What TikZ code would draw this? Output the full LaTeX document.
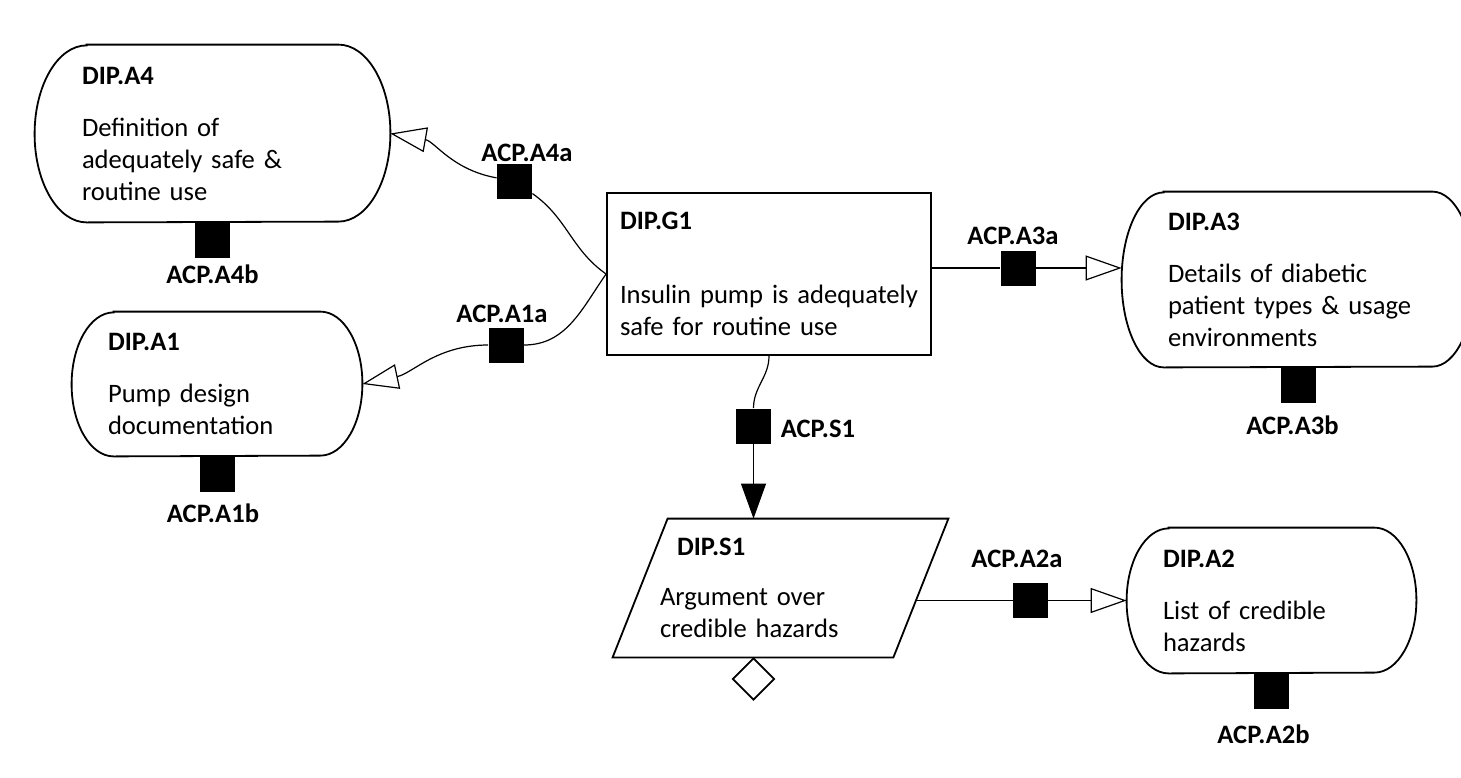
\documentclass[tikz,border=0pt]{standalone}
\usepackage{fontspec}
\setmainfont{Carlito}
\usetikzlibrary{arrows.meta,positioning,shapes.geometric,calc}

\begin{document}
\begin{tikzpicture}
  [x=0.5pt, y=-0.5pt, font=\fontsize{13.3pt}{16pt}\selectfont,
    every label/.style={inner sep=0pt, font=\fontsize{13.3pt}{16pt}\selectfont\bfseries},
    context/.style={
      rectangle,
      inner sep=0pt,
      align=left
    },
    goal/.style={
      rectangle,
      draw,
      line width=0.9pt,
      inner sep=0pt,
      align=left,
      minimum width=162pt,
      minimum height=81pt,
      text width=149pt
    },
    strategy/.style={
      rectangle,
      inner sep=0pt,
      align=left,
      minimum width=140pt,
      minimum height=69pt,
      text width=120.5pt
    },
    acp/.style={
      rectangle,
      fill=black,
      inner sep=0pt,
      minimum size=17.5pt
    },
    link/.style={line width=0.6pt},
    incontext/.style={link, -{Triangle[open, length=18pt, width=12.5pt]}},
    solvedby/.style={link, -{Triangle[length=17.5pt, width=12.5pt]}}
  ]
\useasboundingbox (0,0) rectangle (1461,777);

% Draw goal and strategy
\node [goal] (G1) at (769,274)
  {\textbf{DIP.G1}\\[21pt]Insulin pump is adequately\\safe for routine use};
\node [strategy] (S1) at (780.5,588)
  {\hspace*{8.5pt}\textbf{DIP.S1}\\[9pt]Argument over\\credible hazards};
\draw [line width=0.9pt] ([xshift=13.75pt]S1.north west) -- ([xshift=13.75pt]S1.north east)
  -- ([xshift=-13.75pt]S1.south east) -- ([xshift=-13.75pt]S1.south west) -- cycle;
\node [diamond, draw, line width=0.9pt, inner sep=0pt, minimum size=21pt, anchor=north]
  (S1u) at (753.5,657) {};

% Draw context nodes
\node [context, minimum width=177.5pt, minimum height=88.5pt, text width=130.5pt] (A4) at (212.5,133.5)
  {\textbf{DIP.A4}\\[10pt]Definition of\\adequately safe \&\\routine use};
\node [context, minimum width=145pt, minimum height=72pt, text width=109pt] (A1) at (217,384)
  {\textbf{DIP.A1}\\[10pt]Pump design\\documentation};
\node [context, minimum width=176pt, minimum height=87.5pt, text width=130pt] (A3) at (1298,279.5)
  {\textbf{DIP.A3}\\[10pt]Details of diabetic\\patient types \& usage\\environments};
\node [context, minimum width=144.5pt, minimum height=72.5pt, text width=108.5pt] (A2) at (1271.5,600.5)
  {\textbf{DIP.A2}\\[10pt]List of credible\\hazards};

% Draw context outlines
\foreach \n/\r/\h in {A4/26/44.25, A1/21/36, A3/21/43.75, A2/21/36.25}
  \draw [line width=0.9pt] ([xshift=\r pt]\n.north west) -- ([xshift=-\r pt]\n.north east)
    arc [start angle=90, end angle=-90, x radius=\r pt, y radius=\h pt]
    -- ([xshift=\r pt]\n.south west)
    arc [start angle=-90, end angle=-270, x radius=\r pt, y radius=\h pt] -- cycle;

% Draw assurance claim points
\node [acp, label={[xshift=6.25pt, label distance=0.5pt]above:ACP.A4a}] (A4a) at (514.5,181) {};
\node [acp, label={[xshift=-2pt, label distance=2pt]above:ACP.A1a}] (A1a) at (506,345) {};
\node [acp, label={[xshift=-2.5pt, label distance=2.5pt]above:ACP.A3a}] (A3a) at (1018,268) {};
\node [acp, label={[yshift=-1.5pt, label distance=4.5pt]right:ACP.S1}] (S1a) at (753.5,426) {};
\node [acp, label={[xshift=-6.75pt, label distance=7.5pt]above:ACP.A2a}] (A2a) at (1030.5,600.5) {};
\foreach \n/\dx/\dist in {A4/0/3, A1/-2/5.5, A3/-2.75/6, A2/-4/7.5}
  \node [acp, below=0pt of \n, label={[xshift=\dx pt, label distance=\dist pt]below:ACP.\n b}] (\n b) {};

% Connect goal with contexts and strategy
\draw [link] (G1.west) to [out=145, in=-35] (A4a);
\draw [incontext] (A4a) to [out=170, in=-10] (A4.east);
\draw [link] (G1.west) to [out=-125, in=0] (A1a);
\draw [incontext] (A1a) to [out=180, in=12] (A1.east);
\draw [link] (G1.east |- A3a) -- (A3a);
\draw [incontext] (A3a) -- (A3a -| A3.west);
\draw [link] (G1.south) to [out=-90, in=90] (S1a);
\draw [solvedby] (S1a) -- (S1a |- S1.north);

% Connect strategy with context
\draw [link] ($(S1.east |- A2a)+(-5,0)$) -- (A2a);
\draw [incontext] (A2a) -- (A2.west);
\end{tikzpicture}
\end{document}
